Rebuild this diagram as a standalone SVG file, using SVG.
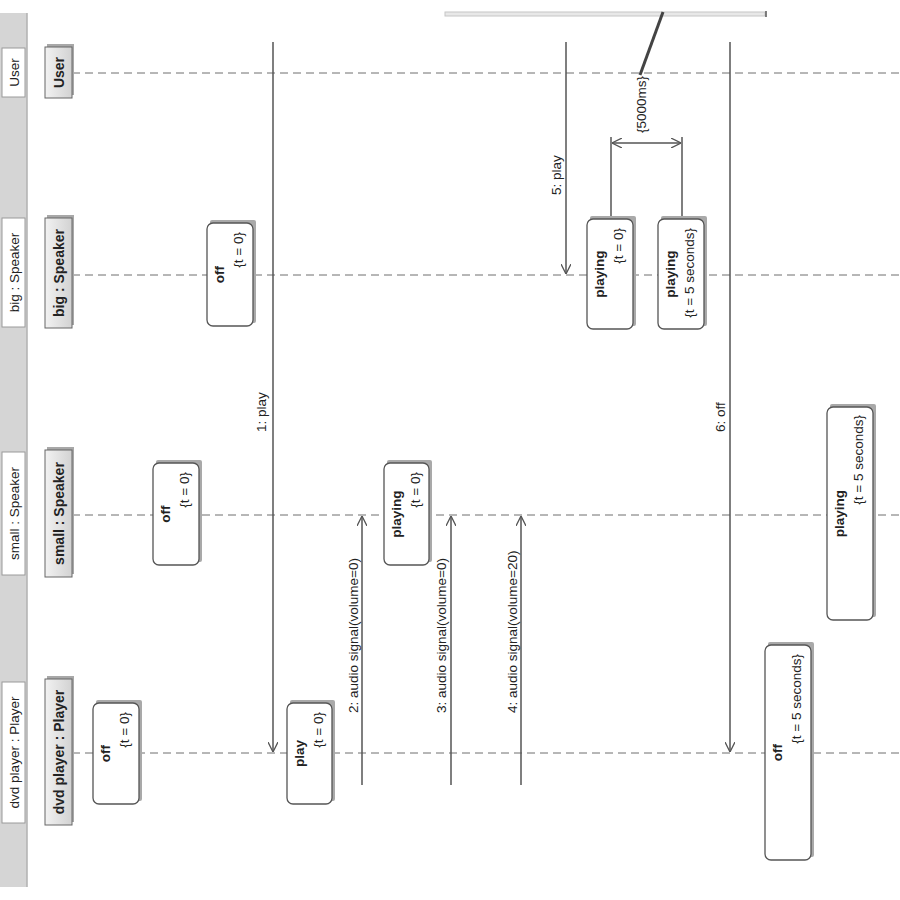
<svg xmlns="http://www.w3.org/2000/svg" width="900" height="900" viewBox="0 0 900 900">
  <style>
    text { font-family: "Liberation Sans", Arial, sans-serif; fill: #222; }
    .band { fill: #d5d5d5; }
    .bandedge { stroke: #b0b0b0; stroke-width: 1.5; }
    .tab { fill: #ffffff; stroke: #9a9a9a; stroke-width: 1; }
    .tabtxt { font-size: 13.5px; text-anchor: middle; }
    .head { fill: url(#headFill); stroke: #666; stroke-width: 1; }
    .headshadow { fill: #a8a8a8; }
    .headtxt { font-size: 14px; font-weight: bold; text-anchor: middle; }
    .lane { stroke: #6f6f6f; stroke-width: 1; stroke-dasharray: 8 5; fill: none; }
    .box { fill: #ffffff; stroke: #555; stroke-width: 1.3; }
    .boxshadow { fill: #a9a9a9; }
    .name { font-size: 13.5px; font-weight: bold; text-anchor: middle; }
    .cons { font-size: 13.5px; text-anchor: end; }
    .msg { stroke: #555; stroke-width: 1.5; fill: none; }
    .msgtxt { font-size: 13.5px; }
  </style>
  <defs>
    <linearGradient id="headFill" x1="0" y1="0" x2="0" y2="1">
      <stop offset="0" stop-color="#f2f2f2"/>
      <stop offset="1" stop-color="#d2d2d2"/>
    </linearGradient>
    <marker id="open" viewBox="0 0 10 10" refX="10" refY="5" markerWidth="10" markerHeight="10" markerUnits="userSpaceOnUse" orient="auto-start-reverse">
      <path d="M0,0 L10,5 L0,10" fill="none" stroke="#555" stroke-width="1.3"/>
    </marker>
  </defs>

  <!-- lane index band on the left -->
  <g id="band">
    <rect class="band" x="0" y="13" width="27" height="874"/>
    <line class="bandedge" x1="27" y1="13" x2="27" y2="887"/>
    <g transform="translate(2,97) rotate(-90)"><rect class="tab" width="49" height="23"/><text class="tabtxt" x="24.5" y="16.5">User</text></g>
    <g transform="translate(2,327) rotate(-90)"><rect class="tab" width="109" height="23"/><text class="tabtxt" x="54.5" y="16.5">big : Speaker</text></g>
    <g transform="translate(2,575) rotate(-90)"><rect class="tab" width="123" height="23"/><text class="tabtxt" x="61.5" y="16.5">small : Speaker</text></g>
    <g transform="translate(2,823) rotate(-90)"><rect class="tab" width="141" height="23"/><text class="tabtxt" x="70.5" y="16.5">dvd player : Player</text></g>
  </g>

  <!-- timeline bar at the top -->
  <g id="timebar">
    <rect x="445" y="12" width="320" height="4" fill="#e8e8e8" stroke="#c6c6c6" stroke-width="1"/>
    <line x1="766" y1="11" x2="766" y2="17" stroke="#555" stroke-width="1.5"/>
    <line x1="640" y1="75" x2="663" y2="12" stroke="#444" stroke-width="3"/>
  </g>

  <!-- lifelines -->
  <g id="lifelines">
    <line class="lane" x1="72" y1="73" x2="900" y2="73"/>
    <line class="lane" x1="72" y1="275" x2="900" y2="275"/>
    <line class="lane" x1="72" y1="515" x2="900" y2="515"/>
    <line class="lane" x1="72" y1="753" x2="900" y2="753"/>
  </g>

  <!-- lifeline heads -->
  <g id="head-user" transform="translate(45,98) rotate(-90)">
    <rect class="headshadow" x="3" y="2" width="51" height="27"/>
    <rect class="head" width="51" height="27"/>
    <text class="headtxt" x="25.5" y="18.5">User</text>
  </g>
  <g id="head-big" transform="translate(45,328) rotate(-90)">
    <rect class="headshadow" x="3" y="2" width="110" height="27"/>
    <rect class="head" width="110" height="27"/>
    <text class="headtxt" x="55" y="18.5">big : Speaker</text>
  </g>
  <g id="head-small" transform="translate(45,577) rotate(-90)">
    <rect class="headshadow" x="3" y="2" width="127" height="27"/>
    <rect class="head" width="127" height="27"/>
    <text class="headtxt" x="63.5" y="18.5">small : Speaker</text>
  </g>
  <g id="head-dvd" transform="translate(45,825) rotate(-90)">
    <rect class="headshadow" x="3" y="2" width="146" height="27"/>
    <rect class="head" width="146" height="27"/>
    <text class="headtxt" x="73" y="18.5">dvd player : Player</text>
  </g>

  <!-- messages -->
  <g id="connectors">
    <line class="msg" x1="273" y1="42" x2="273" y2="752" marker-end="url(#open)"/>
    <text class="msgtxt" transform="translate(266,432) rotate(-90)">1: play</text>

    <line class="msg" x1="362" y1="785" x2="362" y2="516" marker-end="url(#open)"/>
    <text class="msgtxt" transform="translate(357.5,713) rotate(-90)">2: audio signal(volume=0)</text>

    <line class="msg" x1="451" y1="785" x2="451" y2="516" marker-end="url(#open)"/>
    <text class="msgtxt" transform="translate(446,713) rotate(-90)">3: audio signal(volume=0)</text>

    <line class="msg" x1="521" y1="785" x2="521" y2="516" marker-end="url(#open)"/>
    <text class="msgtxt" transform="translate(517,713) rotate(-90)">4: audio signal(volume=20)</text>

    <line class="msg" x1="566" y1="42" x2="566" y2="274" marker-end="url(#open)"/>
    <text class="msgtxt" transform="translate(561,195) rotate(-90)">5: play</text>

    <line class="msg" x1="730" y1="42" x2="730" y2="752" marker-end="url(#open)"/>
    <text class="msgtxt" transform="translate(724.5,432) rotate(-90)">6: off</text>

    <!-- duration constraint between the two big speaker states -->
    <line class="msg" x1="611" y1="137" x2="611" y2="219"/>
    <line class="msg" x1="682" y1="137" x2="682" y2="219"/>
    <line class="msg" x1="612" y1="143" x2="681" y2="143" marker-start="url(#open)" marker-end="url(#open)"/>
    <text class="msgtxt" transform="translate(645.5,133) rotate(-90)">{5000ms}</text>
  </g>

  <!-- state invariants -->
  <g id="dvd-off-0" transform="translate(93,804) rotate(-90)">
    <rect class="boxshadow" x="3" y="3" width="101" height="46" rx="2"/>
    <rect class="box" width="101" height="46" rx="6"/>
    <text class="name" x="50.5" y="17">off</text>
    <text class="cons" x="92" y="36">{t = 0}</text>
  </g>
  <g id="dvd-play-0" transform="translate(287,804) rotate(-90)">
    <rect class="boxshadow" x="3" y="3" width="101" height="45" rx="2"/>
    <rect class="box" width="101" height="45" rx="6"/>
    <text class="name" x="50.5" y="17">play</text>
    <text class="cons" x="92" y="36">{t = 0}</text>
  </g>
  <g id="big-off-0" transform="translate(207,326) rotate(-90)">
    <rect class="boxshadow" x="3" y="3" width="103" height="46" rx="2"/>
    <rect class="box" width="103" height="46" rx="6"/>
    <text class="name" x="51.5" y="17">off</text>
    <text class="cons" x="94" y="36">{t = 0}</text>
  </g>
  <g id="small-off-0" transform="translate(153,565) rotate(-90)">
    <rect class="boxshadow" x="3" y="3" width="102" height="46" rx="2"/>
    <rect class="box" width="102" height="46" rx="6"/>
    <text class="name" x="51" y="17">off</text>
    <text class="cons" x="93" y="36">{t = 0}</text>
  </g>
  <g id="small-playing-0" transform="translate(384,565) rotate(-90)">
    <rect class="boxshadow" x="3" y="3" width="102" height="45" rx="2"/>
    <rect class="box" width="102" height="45" rx="6"/>
    <text class="name" x="51" y="17">playing</text>
    <text class="cons" x="93" y="36">{t = 0}</text>
  </g>
  <g id="big-playing-0" transform="translate(587,329) rotate(-90)">
    <rect class="boxshadow" x="3" y="3" width="110" height="46" rx="2"/>
    <rect class="box" width="110" height="46" rx="6"/>
    <text class="name" x="55" y="17">playing</text>
    <text class="cons" x="101" y="36">{t = 0}</text>
  </g>
  <g id="big-playing-5" transform="translate(658,329) rotate(-90)">
    <rect class="boxshadow" x="3" y="3" width="110" height="46" rx="2"/>
    <rect class="box" width="110" height="46" rx="6"/>
    <text class="name" x="55" y="17">playing</text>
    <text class="cons" x="101" y="36">{t = 5 seconds}</text>
  </g>
  <g id="small-playing-5" transform="translate(827,620) rotate(-90)">
    <rect class="boxshadow" x="3" y="3" width="213" height="46" rx="2"/>
    <rect class="box" width="213" height="46" rx="6"/>
    <text class="name" x="106.5" y="17">playing</text>
    <text class="cons" x="205" y="36">{t = 5 seconds}</text>
  </g>
  <g id="dvd-off-5" transform="translate(765,860) rotate(-90)">
    <rect class="boxshadow" x="3" y="3" width="215" height="46" rx="2"/>
    <rect class="box" width="215" height="46" rx="6"/>
    <text class="name" x="107.5" y="17">off</text>
    <text class="cons" x="206" y="36">{t = 5 seconds}</text>
  </g>
</svg>
